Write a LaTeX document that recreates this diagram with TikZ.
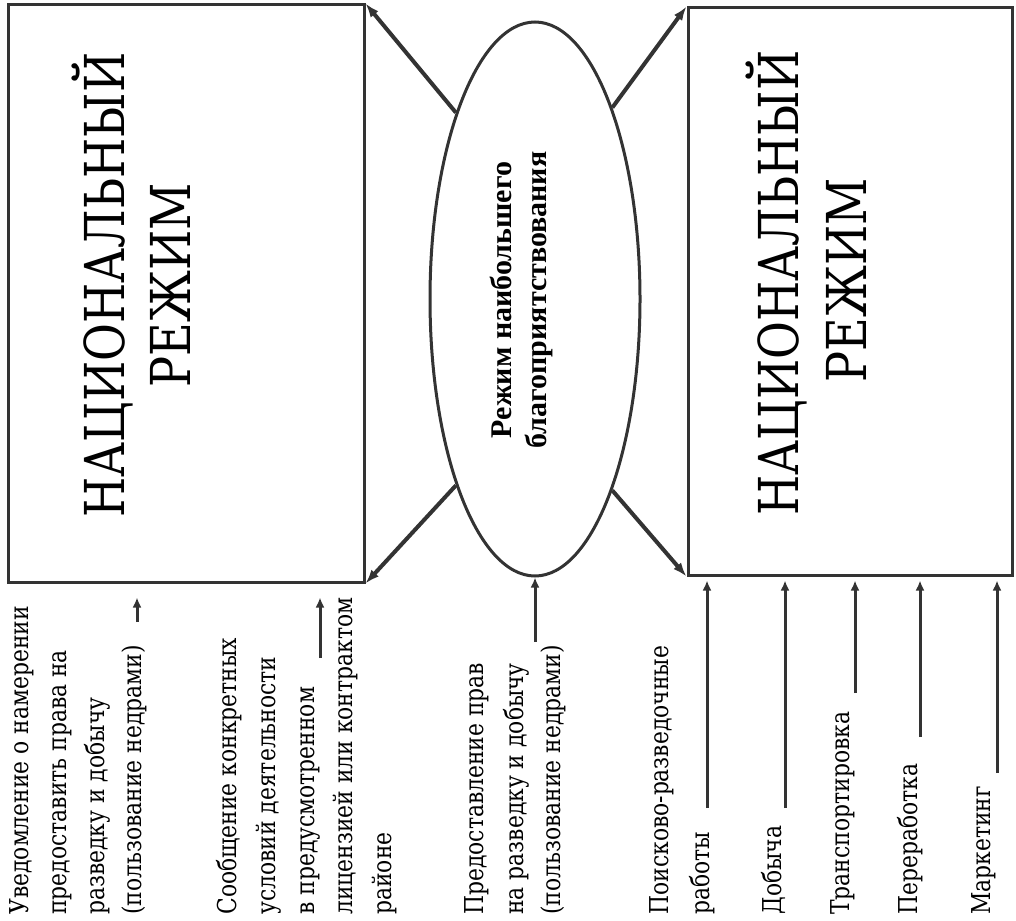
\documentclass[tikz,border=0pt]{standalone}
\usepackage{fontspec}
\setmainfont{DejaVu Serif}[FakeStretch=0.84]
\newfontfamily\mfnfont{Liberation Serif}
\usetikzlibrary{shapes.geometric, arrows, arrows.meta, positioning, calc}

\begin{document}
\begin{tikzpicture}[x=0.5pt, y=-0.5pt,
  regime/.style={draw=black!80, line width=1.5pt, inner sep=0pt},
  bigtxt/.style={rotate=90, inner sep=0pt, font=\fontsize{27.5}{32}\selectfont},
  line/.style={rotate=90, anchor=base west, inner sep=0pt, font=\fontsize{13}{16}\selectfont},
  link/.style={-{Latex[length=7pt, width=5pt]}, draw=black!80, line width=2pt},
  feed/.style={-{Latex[length=5pt, width=4.5pt]}, draw=black!80, line width=1.5pt}]
\useasboundingbox (0,0) rectangle (1016,920);

% Two national regimes and the MFN regime between them
\node[regime, minimum width=178pt, minimum height=288.5pt] (lbox) at (186,293.5) {};
\node[regime, minimum width=162pt, minimum height=283.5pt] (rbox) at (850,291.5) {};
\node[regime, ellipse, minimum width=105pt, minimum height=277pt] (ell) at (535,299) {};

\node[bigtxt] (lnat) at (102,285) {НАЦИОНАЛЬНЫЙ};
\node[bigtxt] (lreg) at (170,285) {РЕЖИМ};
\node[bigtxt] (rnat) at (776,283) {НАЦИОНАЛЬНЫЙ};
\node[bigtxt] (rreg) at (846,280) {РЕЖИМ};
\node[rotate=90, inner sep=0pt, align=center,
      font=\mfnfont\bfseries\fontsize{15}{17.5}\selectfont] (mfn) at (521,300)
      {Режим наибольшего\\благоприятствования};

% Links from the ellipse to the box corners
\draw[link] (ell.113) -- (lbox.north east);
\draw[link] (ell.247) -- (lbox.south east);
\draw[link] (ell.68) -- (rbox.north west);
\draw[link] (ell.292) -- (rbox.south west);

% Captions under the left box
\foreach \x/\t [count=\i] in {28/Уведомление о намерении, 66/предоставить права на,
    104/разведку и добычу, 141/(пользование недрами)}
  \node[line] (notice\i) at (\x,915) {\t};
\foreach \x/\t [count=\i] in {236/Сообщение конкретных, 275/условий деятельности,
    314/в предусмотренном, 352/лицензией или контрактом, 391/районе}
  \node[line] (terms\i) at (\x,915) {\t};

% Caption under the ellipse
\foreach \x/\t [count=\i] in {483/Предоставление прав, 523/на разведку и добычу,
    560/(пользование недрами)}
  \node[line] (grant\i) at (\x,915) {\t};

% Stages under the right box
\node[line] (survey) at (668,915) {Поисково-разведочные};
\node[line] (survey2) at (709,915) {работы};
\node[line] (extract) at (781,915) {Добыча};
\node[line] (transport) at (849,915) {Транспортировка};
\node[line] (process) at (917,915) {Переработка};
\node[line] (market) at (990,915) {Маркетинг};

% Feed arrows
\coordinate (fa) at (137,622);
\coordinate (fb) at (320,658);
\coordinate (fc) at (535,642);
\draw[feed, shorten >=7pt] (fa) -- (fa |- lbox.south);
\draw[feed, shorten >=7pt] (fb) -- (fb |- lbox.south);
\draw[feed] (fc) -- (ell.south);
\foreach \x/\y [count=\i] in {707/808, 785/808, 855/693, 920/737, 997/773} {
  \coordinate (s\i) at (\x,\y);
  \draw[feed, shorten >=2pt] (s\i) -- (s\i |- rbox.south);
}
\end{tikzpicture}
\end{document}
